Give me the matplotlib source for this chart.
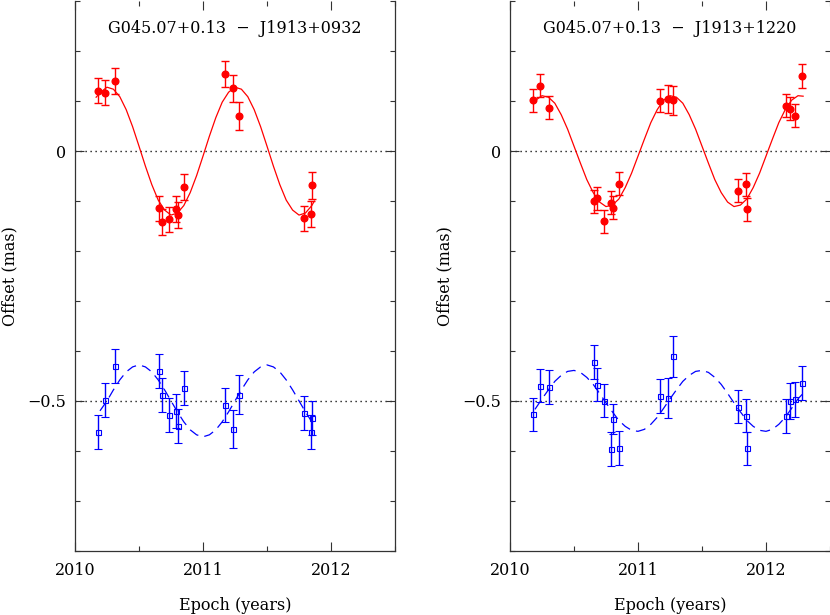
import numpy as np
import matplotlib
matplotlib.use("Agg")
import matplotlib.pyplot as plt
from matplotlib.ticker import MultipleLocator, FuncFormatter

plt.rcParams['font.family'] = ['DejaVu Serif']
plt.rcParams['font.size'] = 11.5

# ---------------- left panel: G045.07+0.13 - J1913+0932 ----------------
left_title = "G045.07+0.13  \u2212  J1913+0932"
left_epoch = [2010.177, 2010.236, 2010.312, 2010.657, 2010.678, 2010.735, 2010.792,
              2010.805, 2010.855, 2011.174, 2011.236, 2011.278, 2011.787, 2011.842,
              2011.855]
left_red = [0.121, 0.117, 0.140, -0.114, -0.142, -0.136, -0.116, -0.128, -0.072,
            0.154, 0.126, 0.071, -0.134, -0.125, -0.068]
left_red_err = [0.025, 0.025, 0.026, 0.025, 0.026, 0.025, 0.026, 0.026, 0.026,
                0.026, 0.027, 0.028, 0.025, 0.026, 0.027]
left_blue = [-0.563, -0.498, -0.430, -0.441, -0.488, -0.529, -0.520, -0.550, -0.474,
             -0.508, -0.557, -0.488, -0.525, -0.563, -0.534]
left_blue_err = [0.034, 0.034, 0.034, 0.034, 0.034, 0.034, 0.034, 0.034, 0.034,
                 0.034, 0.038, 0.039, 0.034, 0.034, 0.034]

# model curves
left_red_fit_t = [2010.165, 2010.20, 2010.25, 2010.30, 2010.35, 2010.40, 2010.45,
                  2010.50, 2010.55, 2010.60, 2010.65, 2010.70, 2010.75, 2010.80,
                  2010.85, 2010.90, 2010.95, 2011.00, 2011.05, 2011.10, 2011.15,
                  2011.20, 2011.25, 2011.30, 2011.35, 2011.40, 2011.45, 2011.50,
                  2011.55, 2011.60, 2011.65, 2011.70, 2011.75, 2011.80, 2011.85,
                  2011.87]
left_red_fit = [0.108, 0.118, 0.128, 0.124, 0.109, 0.083, 0.049, 0.010, -0.030,
                -0.067, -0.098, -0.118, -0.128, -0.124, -0.109, -0.083, -0.049,
                -0.010, 0.030, 0.067, 0.098, 0.118, 0.128, 0.124, 0.109, 0.083,
                0.049, 0.010, -0.030, -0.067, -0.098, -0.118, -0.128, -0.124,
                -0.109, -0.100]
left_blue_fit_t = [2010.195, 2010.25, 2010.30, 2010.35, 2010.40, 2010.45, 2010.50,
                   2010.55, 2010.60, 2010.65, 2010.70, 2010.75, 2010.80, 2010.85,
                   2010.90, 2010.95, 2011.00, 2011.05, 2011.10, 2011.15, 2011.20,
                   2011.25, 2011.30, 2011.35, 2011.40, 2011.45, 2011.50, 2011.55,
                   2011.60, 2011.65, 2011.70, 2011.75, 2011.80, 2011.85, 2011.87]
left_blue_fit = [-0.520, -0.500, -0.478, -0.458, -0.442, -0.432, -0.428, -0.432,
                 -0.442, -0.458, -0.478, -0.500, -0.522, -0.542, -0.558, -0.568,
                 -0.572, -0.568, -0.558, -0.542, -0.522, -0.500, -0.478, -0.458,
                 -0.442, -0.432, -0.428, -0.432, -0.442, -0.458, -0.478, -0.500,
                 -0.522, -0.542, -0.549]

# ---------------- right panel: G045.07+0.13 - J1913+1220 ----------------
right_title = "G045.07+0.13  \u2212  J1913+1220"
right_epoch = [2010.177, 2010.234, 2010.307, 2010.659, 2010.680, 2010.734, 2010.789,
               2010.805, 2010.852, 2011.174, 2011.237, 2011.273, 2011.784, 2011.841,
               2011.849, 2012.156, 2012.188, 2012.229, 2012.279]
right_red = [0.102, 0.131, 0.087, -0.100, -0.094, -0.140, -0.103, -0.113, -0.065,
             0.101, 0.104, 0.102, -0.079, -0.066, -0.116, 0.091, 0.085, 0.071, 0.151]
right_red_err = [0.023, 0.023, 0.023, 0.023, 0.023, 0.023, 0.023, 0.023, 0.023,
                 0.023, 0.028, 0.029, 0.023, 0.023, 0.023, 0.023, 0.023, 0.023, 0.024]
right_blue = [-0.527, -0.470, -0.472, -0.423, -0.468, -0.500, -0.597, -0.536, -0.595,
              -0.491, -0.494, -0.411, -0.512, -0.530, -0.595, -0.531, -0.500, -0.497,
              -0.464]
right_blue_err = [0.033, 0.033, 0.034, 0.034, 0.033, 0.033, 0.034, 0.030, 0.034,
                  0.034, 0.040, 0.041, 0.033, 0.033, 0.033, 0.034, 0.036, 0.035, 0.034]

right_red_fit_t = [2010.195, 2010.20, 2010.25, 2010.30, 2010.35, 2010.40, 2010.45,
                   2010.50, 2010.55, 2010.60, 2010.65, 2010.70, 2010.75, 2010.80,
                   2010.85, 2010.90, 2010.95, 2011.00, 2011.05, 2011.10, 2011.15,
                   2011.20, 2011.25, 2011.30, 2011.35, 2011.40, 2011.45, 2011.50,
                   2011.55, 2011.60, 2011.65, 2011.70, 2011.75, 2011.80, 2011.85,
                   2011.90, 2011.95, 2012.00, 2012.05, 2012.10, 2012.15, 2012.20,
                   2012.25, 2012.29]
right_red_fit = [0.102, 0.102, 0.111, 0.108, 0.096, 0.073, 0.044, 0.010, -0.024,
                 -0.057, -0.083, -0.102, -0.111, -0.108, -0.096, -0.073, -0.044,
                 -0.010, 0.024, 0.057, 0.083, 0.102, 0.111, 0.108, 0.096, 0.073,
                 0.044, 0.010, -0.024, -0.057, -0.083, -0.102, -0.111, -0.108,
                 -0.096, -0.073, -0.044, -0.010, 0.024, 0.057, 0.083, 0.102,
                 0.111, 0.110]
right_blue_fit_t = [2010.195, 2010.25, 2010.30, 2010.35, 2010.40, 2010.45, 2010.50,
                    2010.55, 2010.60, 2010.65, 2010.70, 2010.75, 2010.80, 2010.85,
                    2010.90, 2010.95, 2011.00, 2011.05, 2011.10, 2011.15, 2011.20,
                    2011.25, 2011.30, 2011.35, 2011.40, 2011.45, 2011.50, 2011.55,
                    2011.60, 2011.65, 2011.70, 2011.75, 2011.80, 2011.85, 2011.90,
                    2011.95, 2012.00, 2012.05, 2012.10, 2012.15, 2012.20, 2012.25,
                    2012.29]
right_blue_fit = [-0.517, -0.496, -0.478, -0.461, -0.449, -0.441, -0.439, -0.443,
                  -0.453, -0.467, -0.485, -0.504, -0.522, -0.539, -0.551, -0.559,
                  -0.561, -0.557, -0.547, -0.533, -0.515, -0.496, -0.478, -0.461,
                  -0.449, -0.441, -0.439, -0.443, -0.453, -0.467, -0.485, -0.504,
                  -0.522, -0.539, -0.551, -0.559, -0.561, -0.557, -0.547, -0.533,
                  -0.515, -0.496, -0.485]

REF_LINES = [0.0, -0.5]
FRAME = '#333333'


def y_fmt(v, pos):
    if abs(v) < 1e-9:
        return '0'
    return f'{v:.1f}'.replace('-', '\u2212')


def draw_panel(ax, title, epoch, red, red_err, blue, blue_err,
               rf_t, rf, bf_t, bf, hide_right=False):
    for yv in REF_LINES:
        ax.axhline(yv, color='black', lw=1.0, dashes=(0.9, 2.7), zorder=1)

    ax.plot(rf_t, rf, color='red', lw=0.9, zorder=2)
    ax.plot(bf_t, bf, color='blue', lw=0.9, dashes=(8, 5), zorder=2)

    ax.errorbar(epoch, red, yerr=red_err, fmt='o', color='red', ms=4.8,
                elinewidth=1.0, capsize=2.7, capthick=1.0, zorder=3)
    ax.errorbar(epoch, blue, yerr=blue_err, fmt='s', color='blue', ms=3.6,
                mfc='none', mew=0.8, elinewidth=1.0, capsize=2.7, capthick=1.0,
                zorder=3)

    ax.set_xlim(2010, 2012.5)
    ax.set_ylim(-0.8, 0.3)
    ax.xaxis.set_major_locator(MultipleLocator(1))
    ax.xaxis.set_minor_locator(MultipleLocator(0.5))
    ax.yaxis.set_major_locator(MultipleLocator(0.5))
    ax.yaxis.set_minor_locator(MultipleLocator(0.1))
    ax.xaxis.set_major_formatter(FuncFormatter(lambda v, p: f'{v:.0f}'))
    ax.yaxis.set_major_formatter(FuncFormatter(y_fmt))

    ax.tick_params(which='both', direction='in', top=True, right=True,
                   color=FRAME, width=0.8)
    ax.tick_params(which='major', length=6.8)
    ax.tick_params(which='minor', length=3.6)
    ax.tick_params(axis='x', pad=8)
    ax.tick_params(axis='y', pad=6.5)

    for side in ['left', 'right', 'bottom', 'top']:
        ax.spines[side].set_color(FRAME)
        ax.spines[side].set_linewidth(0.9)
    ax.spines['top'].set_visible(False)
    if hide_right:
        ax.spines['right'].set_visible(False)

    ax.text(0.5, 0.9496, title, transform=ax.transAxes, ha='center', va='center')


fig = plt.figure(figsize=(8.3, 6.15), dpi=100)
W, H = 830.0, 615.0
ax_l = fig.add_axes([75 / W, 1 - 550.7 / H, 320 / W, 549.4 / H])
ax_r = fig.add_axes([510 / W, 1 - 550.7 / H, 320 / W, 549.4 / H])

draw_panel(ax_l, left_title, left_epoch, left_red, left_red_err, left_blue,
           left_blue_err, left_red_fit_t, left_red_fit, left_blue_fit_t, left_blue_fit)
draw_panel(ax_r, right_title, right_epoch, right_red, right_red_err, right_blue,
           right_blue_err, right_red_fit_t, right_red_fit, right_blue_fit_t,
           right_blue_fit, hide_right=True)

for xc in [10, 445]:
    fig.text(xc / W, 1 - 276 / H, 'Offset (mas)', rotation=90,
             ha='center', va='center')
for xc in [235, 670]:
    fig.text(xc / W, 1 - 605 / H, 'Epoch (years)', ha='center', va='center')

fig.savefig('out.png', dpi=100)
